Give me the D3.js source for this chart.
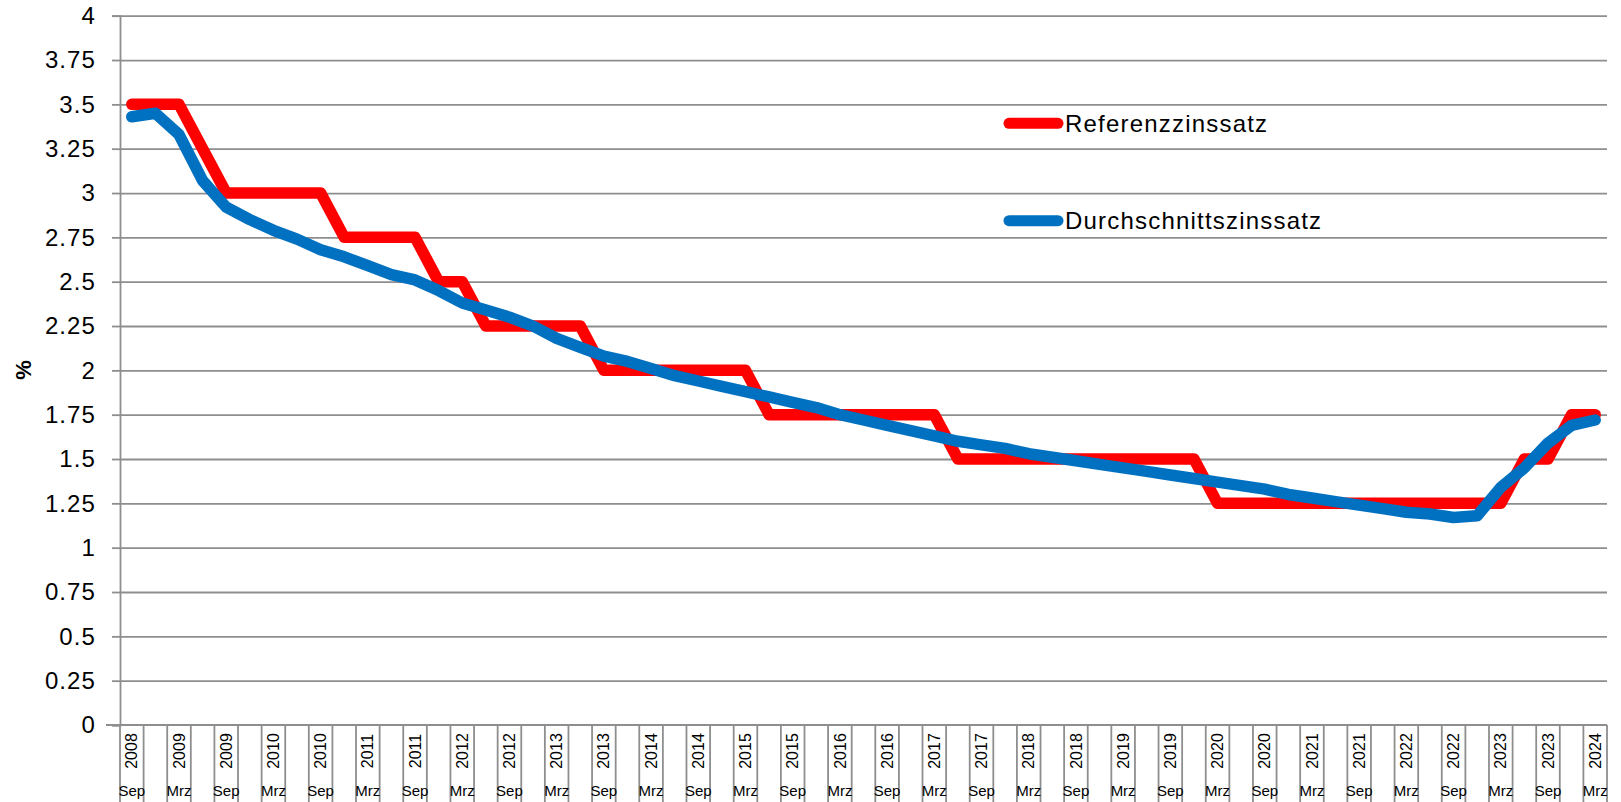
<!DOCTYPE html>
<html>
<head>
<meta charset="utf-8">
<script src="https://cdn.jsdelivr.net/npm/d3@7"></script>
<style>
  html, body { margin: 0; padding: 0; background: #fff; }
  svg { display: block; font-family: "Liberation Sans", Arial, sans-serif; }
</style>
</head>
<body>
<svg id="chart" width="1621" height="802"></svg>
<script>
// Quarterly reporting dates (Sep 2008 – Mrz 2024)
const categories = [
  "Sep 2008","Dez 2008","Mrz 2009","Jun 2009","Sep 2009","Dez 2009","Mrz 2010","Jun 2010",
  "Sep 2010","Dez 2010","Mrz 2011","Jun 2011","Sep 2011","Dez 2011","Mrz 2012","Jun 2012",
  "Sep 2012","Dez 2012","Mrz 2013","Jun 2013","Sep 2013","Dez 2013","Mrz 2014","Jun 2014",
  "Sep 2014","Dez 2014","Mrz 2015","Jun 2015","Sep 2015","Dez 2015","Mrz 2016","Jun 2016",
  "Sep 2016","Dez 2016","Mrz 2017","Jun 2017","Sep 2017","Dez 2017","Mrz 2018","Jun 2018",
  "Sep 2018","Dez 2018","Mrz 2019","Jun 2019","Sep 2019","Dez 2019","Mrz 2020","Jun 2020",
  "Sep 2020","Dez 2020","Mrz 2021","Jun 2021","Sep 2021","Dez 2021","Mrz 2022","Jun 2022",
  "Sep 2022","Dez 2022","Mrz 2023","Jun 2023","Sep 2023","Dez 2023","Mrz 2024"
];

// Referenzzinssatz (%)
const referenzzinssatz = [
  3.5, 3.5, 3.5, 3.25, 3.0, 3.0, 3.0, 3.0,
  3.0, 2.75, 2.75, 2.75, 2.75, 2.5, 2.5, 2.25,
  2.25, 2.25, 2.25, 2.25, 2.0, 2.0, 2.0, 2.0,
  2.0, 2.0, 2.0, 1.75, 1.75, 1.75, 1.75, 1.75,
  1.75, 1.75, 1.75, 1.5, 1.5, 1.5, 1.5, 1.5,
  1.5, 1.5, 1.5, 1.5, 1.5, 1.5, 1.25, 1.25,
  1.25, 1.25, 1.25, 1.25, 1.25, 1.25, 1.25, 1.25,
  1.25, 1.25, 1.25, 1.5, 1.5, 1.75, 1.75
];

// Durchschnittszinssatz (%)
const durchschnittszinssatz = [
  3.43, 3.45, 3.33, 3.07, 2.92, 2.85, 2.79, 2.74,
  2.68, 2.64, 2.59, 2.54, 2.51, 2.45, 2.38, 2.34,
  2.30, 2.25, 2.18, 2.13, 2.08, 2.05, 2.01, 1.97,
  1.94, 1.91, 1.88, 1.85, 1.82, 1.79, 1.75, 1.72,
  1.69, 1.66, 1.63, 1.60, 1.58, 1.56, 1.53, 1.51,
  1.49, 1.47, 1.45, 1.43, 1.41, 1.39, 1.37, 1.35,
  1.33, 1.30, 1.28, 1.26, 1.24, 1.22, 1.20, 1.19,
  1.17, 1.18, 1.34, 1.45, 1.59, 1.69, 1.72
];

// Value axis ticks
const yTicks = [0, 0.25, 0.5, 0.75, 1, 1.25, 1.5, 1.75, 2, 2.25, 2.5, 2.75, 3, 3.25, 3.5, 3.75, 4];

const series = [
  { name: "Referenzzinssatz", values: referenzzinssatz, color: "#ff0000" },
  { name: "Durchschnittszinssatz", values: durchschnittszinssatz, color: "#0070c0" }
];

(function drawChart() {
  const svg = d3.select("#chart");
  const plotLeft = 120, plotRight = 1607, plotTop = 15.7, plotBottom = 725;
  const gridColor = "#8e8e8e";

  const x = d3.scaleBand().domain(categories).range([plotLeft, plotRight]).padding(0);
  const y = d3.scaleLinear().domain([0, 4]).range([plotBottom, plotTop]);
  const bw = x.bandwidth();

  // Horizontal gridlines
  svg.append("g")
    .attr("transform", `translate(${plotLeft},0)`)
    .call(d3.axisLeft(y).tickValues(yTicks.filter(v => v > 0)).tickSize(-(plotRight - plotLeft)).tickFormat(""))
    .call(g => g.select(".domain").remove())
    .call(g => g.selectAll("line").attr("stroke", gridColor).attr("stroke-width", 1.8));

  // Value axis
  svg.append("g")
    .attr("transform", `translate(${plotLeft},0)`)
    .call(d3.axisLeft(y).tickValues(yTicks).tickSize(8).tickPadding(16).tickFormat(d => String(d)))
    .call(g => g.select(".domain").attr("stroke", gridColor).attr("stroke-width", 1.8))
    .call(g => g.selectAll(".tick line").attr("stroke", gridColor).attr("stroke-width", 1.8))
    .call(g => g.selectAll(".tick text")
      .attr("fill", "#000")
      .style("font-family", '"Liberation Sans", Arial, sans-serif')
      .style("font-size", "24px")
      .style("letter-spacing", "1.1px"));

  // Axis title
  svg.append("text")
    .attr("transform", `translate(23,370) rotate(-90)`)
    .attr("text-anchor", "middle")
    .attr("dy", "0.35em")
    .style("font-size", "22px")
    .style("font-weight", "bold")
    .text("%");

  // Category axis: baseline, boundary ticks and two-level labels
  const xAxis = svg.append("g");
  xAxis.append("line")
    .attr("x1", plotLeft - 14).attr("x2", plotRight)
    .attr("y1", plotBottom).attr("y2", plotBottom)
    .attr("stroke", gridColor).attr("stroke-width", 1.8);

  const boundaries = categories.map(c => x(c)).concat([x(categories[categories.length - 1]) + bw]);
  xAxis.selectAll("line.tick")
    .data(boundaries)
    .join("line")
    .attr("class", "tick")
    .attr("x1", d => d).attr("x2", d => d)
    .attr("y1", plotBottom).attr("y2", 802)
    .attr("stroke", gridColor).attr("stroke-width", 1.8);

  const labelled = categories.filter((c, i) => i % 2 === 0);

  xAxis.selectAll("text.year")
    .data(labelled)
    .join("text")
    .attr("class", "year")
    .attr("transform", c => `translate(${x(c) + bw / 2},751) rotate(-90)`)
    .attr("text-anchor", "middle")
    .attr("dy", "0.35em")
    .style("font-size", "16px")
    .text(c => c.split(" ")[1]);

  xAxis.selectAll("text.month")
    .data(labelled)
    .join("text")
    .attr("class", "month")
    .attr("x", c => x(c) + bw / 2)
    .attr("y", 796)
    .attr("text-anchor", "middle")
    .style("font-size", "15px")
    .text(c => c.split(" ")[0]);

  // Series lines
  const line = d3.line()
    .x((d, i) => x(categories[i]) + bw / 2)
    .y(d => y(d));

  svg.append("g")
    .selectAll("path")
    .data(series)
    .join("path")
    .attr("d", s => line(s.values))
    .attr("fill", "none")
    .attr("stroke", s => s.color)
    .attr("stroke-width", 11.5)
    .attr("stroke-linejoin", "round")
    .attr("stroke-linecap", "round");

  // Legend
  const legend = svg.append("g")
    .selectAll("g")
    .data(series)
    .join("g")
    .attr("transform", (s, i) => `translate(0,${[123.3, 220.7][i]})`);

  legend.append("line")
    .attr("x1", 1009).attr("x2", 1058)
    .attr("y1", 0).attr("y2", 0)
    .attr("stroke", s => s.color)
    .attr("stroke-width", 11)
    .attr("stroke-linecap", "round");

  legend.append("text")
    .attr("x", 1065)
    .attr("y", 8.4)
    .style("font-size", "24px")
    .style("letter-spacing", "1.2px")
    .text(s => s.name);
})();
</script>
</body>
</html>
